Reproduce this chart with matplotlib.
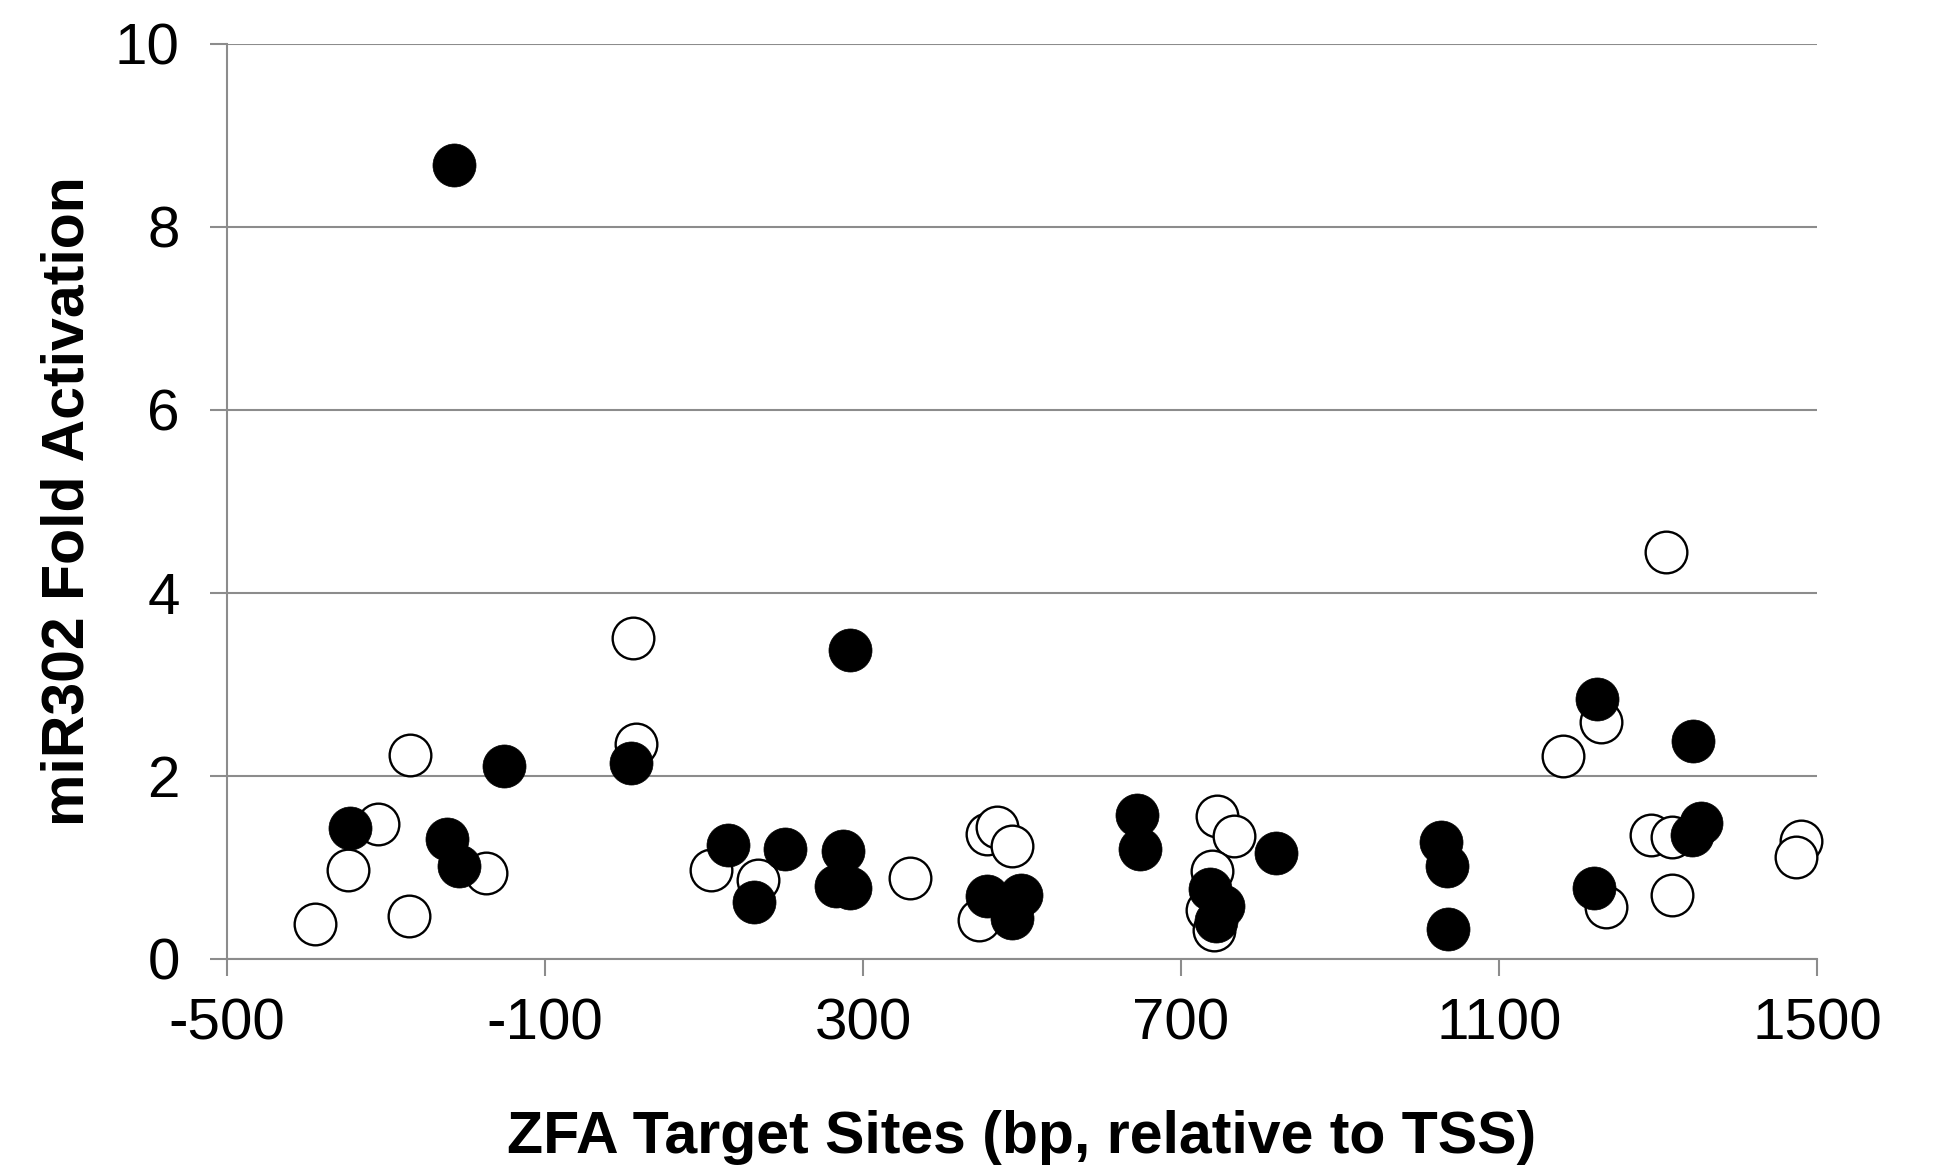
import matplotlib
matplotlib.use('Agg')
import matplotlib.pyplot as plt

###       DATA          ###
# filled circles
filled_x = [-215, -346, -223, -208, -152, 8, 283, 130, 202, 163, 275, 266, 284,
            456, 499, 488, 645, 648, 737, 753, 744, 820, 1027, 1034, 1036,
            1223, 1219, 1344, 1343, 1354]
filled_y = [8.67, 1.43, 1.31, 1.01, 2.11, 2.14, 3.37, 1.24, 1.20, 0.62, 1.18, 0.79, 0.77,
            0.68, 0.70, 0.45, 1.57, 1.20, 0.76, 0.58, 0.41, 1.15, 1.28, 1.01, 0.32,
            2.84, 0.77, 2.38, 1.35, 1.48]

# open circles
open_x = [-390, -348, -310, -271, -270, -174, 10, 14, 109, 168, 359, 446, 456, 468, 488,
          745, 767, 739, 733, 742, 1181, 1228, 1235, 1310, 1291, 1318, 1318, 1480, 1474]
open_y = [0.38, 0.97, 1.47, 0.47, 2.23, 0.94, 3.51, 2.35, 0.97, 0.86, 0.88, 0.42, 1.36, 1.44, 1.23,
          1.56, 1.34, 0.96, 0.53, 0.31, 2.22, 2.59, 0.56, 4.44, 1.35, 1.33, 0.70, 1.29, 1.11]

x_ticks = [-500, -100, 300, 700, 1100, 1500]
y_ticks = [0, 2, 4, 6, 8, 10]
x_label = 'ZFA Target Sites (bp, relative to TSS)'
y_label = 'miR302 Fold Activation'
###                     ###

plt.rcParams['font.family'] = ['Liberation Sans', 'DejaVu Sans']
grey = '#8c8c8c'

fig = plt.figure(figsize=(19.41, 11.68), dpi=100)
ax = fig.add_axes([0.1170, 0.1792, 0.8191, 0.7834])

ax.scatter(open_x, open_y, s=30**2, facecolors='white', edgecolors='black',
           linewidths=1.7, zorder=3, clip_on=False)
ax.scatter(filled_x, filled_y, s=31**2, facecolors='black', edgecolors='black',
           linewidths=0.5, zorder=4, clip_on=False)

ax.set_xlim(-500, 1500)
ax.set_ylim(0, 10)
ax.set_xticks(x_ticks)
ax.set_yticks(y_ticks)
ax.set_xticklabels([str(v) for v in x_ticks])

ax.yaxis.grid(True, color=grey, linewidth=1.5)
ax.set_axisbelow(True)
for side in ['top', 'right']:
    ax.spines[side].set_visible(False)
for side in ['left', 'bottom']:
    ax.spines[side].set_color(grey)
    ax.spines[side].set_linewidth(1.5)

ax.tick_params(axis='both', direction='out', length=12, width=1.5, color=grey,
               labelsize=42, labelcolor='black')
ax.tick_params(axis='x', pad=16)
ax.tick_params(axis='y', pad=22)

ax.set_xlabel(x_label, fontsize=42.5, fontweight='bold')
ax.set_ylabel(y_label, fontsize=42.5, fontweight='bold')
ax.xaxis.set_label_coords(0.5, -0.165)
ax.yaxis.set_label_coords(-0.0825, 0.5)

plt.savefig('out.png', dpi=100, facecolor='white')
